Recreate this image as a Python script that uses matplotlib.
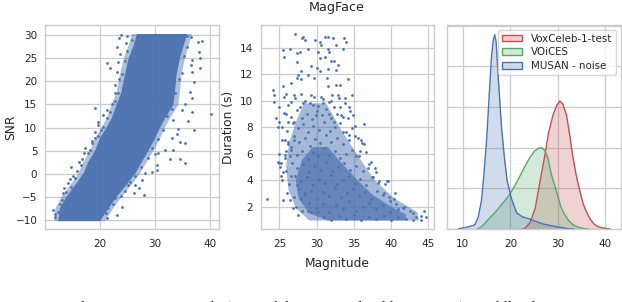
import matplotlib
matplotlib.use('Agg')
import matplotlib.pyplot as plt
import matplotlib.colors as mcolors
import seaborn as sns
from matplotlib.patches import Patch

# =========================================================
# DATA
# =========================================================

# left panel: SNR vs magnitude -- outline of the solid core, a softer halo, loose points
snr_core_mag = [35.8, 35.2, 34.5, 33.9, 33.6, 33.3, 31.8, 30.9, 30.0, 28.8, 27.6, 26.4,
                24.8, 23.0, 21.5, 20.0, 12.4, 12.7, 13.9, 15.5, 17.0, 17.9, 19.1, 20.0,
                21.2, 22.1, 23.0, 23.9, 24.5, 25.2, 26.1, 26.7]
snr_core_snr = [30.25, 27.8, 25.0, 21.4, 17.7, 14.9, 12.0, 10.0, 7.7, 5.0, 2.6, 0.1,
                -2.4, -5.0, -7.5, -10.25, -10.25, -7.5, -5.0, -2.4, 0.1, 2.6, 5.0, 7.7,
                10.0, 12.0, 14.9, 17.7, 21.4, 25.0, 27.8, 30.25]
snr_halo_mag = [36.7, 36.1, 35.4, 34.8, 34.5, 34.2, 32.7, 31.8, 30.9, 29.7, 28.5, 27.3,
                25.7, 23.9, 22.4, 20.9, 11.6, 11.9, 13.0, 14.6, 16.1, 17.0, 18.2, 19.1,
                20.3, 21.2, 22.1, 23.0, 23.6, 24.3, 25.2, 25.8]
snr_halo_snr = snr_core_snr

snr_mag = [38.5, 38.0, 38.2, 36.7, 36.5, 36.7, 38.1, 37.0, 36.4, 36.7, 35.5, 34.8, 36.7,
           40.2, 33.3, 35.9, 37.0, 34.2, 33.9, 33.0, 35.5, 34.5, 33.3, 31.8, 30.6, 30.0,
           35.5, 34.5, 32.7, 30.3, 30.3, 29.4, 27.6, 26.4, 26.1, 27.0, 27.9, 24.5, 23.9,
           23.0, 22.7, 21.5, 19.7, 25.5, 28.2,
           21.2, 21.8, 23.3, 23.0, 23.5, 22.8, 22.1, 21.2, 20.6, 19.1, 21.8, 19.7, 19.1,
           20.6, 18.5, 17.3, 18.2, 16.7, 16.1, 17.0, 14.7, 15.5, 14.5, 14.8, 13.3, 13.9,
           13.0, 11.5, 11.8, 19.1, 19.7, 22.7, 24.2, 23.6, 23.0, 23.5, 24.8, 25.8,
           23.8, 24.9, 35.8, 36.5, 37.8,
           24.9, 24.6, 23.9, 23.3, 22.8, 21.3, 20.2, 19.6, 18.6, 17.8, 16.5, 15.8, 15.0,
           14.2, 13.5, 12.8, 12.3, 11.9,
           35.8, 35.2, 34.8, 34.3, 33.6, 33.0, 32.2, 31.4, 30.6, 29.5, 28.7, 27.4, 26.3,
           25.0, 23.8, 22.4, 21.0, 21.3]
snr_val = [28.7, 26.4, 25.0, 24.6, 23.5, 22.1, 22.9, 19.8, 17.8, 16.5, 15.2, 13.8, 13.3,
           13.0, 11.7, 11.5, 9.5, 9.8, 8.7, 7.7, 6.6, 6.9, 5.2, 5.2, 4.4, 4.2,
           2.3, 3.3, 3.3, 1.9, 0.8, 0.4, -1.3, -2.4, -4.2, -3.1, -4.5, -3.8, -7.1,
           -9.0, -5.3, -7.5, -8.2, -1.7, 0.1,
           23.9, 22.8, 24.2, 22.1, 20.6, 19.3, 15.2, 13.8, 12.8, 14.3, 13.4, 10.5, 9.1,
           10.2, 6.6, 5.5, 5.2, 3.3, 2.6, 4.4, 1.5, -1.0, -1.1, -2.8, -4.2, -3.9,
           -5.7, -7.8, -9.3, 7.7, 11.3, 17.4, 18.5, 26.0, 27.5, 29.3, 28.2, 28.9,
           30.0, 29.9, 29.9, 29.6, 28.5,
           26.5, 24.5, 21.7, 17.5, 15.8, 12.0, 9.5, 8.2, 7.0, 4.6, 2.0, 0.5, -0.5,
           -2.0, -3.0, -6.5, -8.3, -8.6,
           27.5, 25.5, 21.8, 20.5, 17.5, 14.0, 12.5, 9.5, 7.5, 5.5, 3.5, 1.5, -0.5,
           -2.5, -4.8, -6.5, -8.5, -9.6]

# middle panel: duration vs magnitude -- shading for the cloud body, loose points
dur_mid_mag = [28.3, 31.3, 33.3, 35.6, 37.8, 40.5, 43.5, 43.8, 29.0, 27.2, 26.2, 25.9,
               26.3, 27.3]
dur_mid_dur = [9.8, 9.8, 7.8, 5.8, 4.0, 2.6, 1.6, 0.95, 0.95, 1.9, 3.3, 5.0,
               6.8, 8.5]
dur_core_mag = [29.5, 31.5, 33.5, 35.5, 37.5, 40.0, 42.0, 42.0, 31.5, 29.0, 27.6, 27.2,
                28.0]
dur_core_dur = [6.5, 6.5, 5.2, 4.0, 2.9, 2.0, 1.4, 0.95, 0.95, 1.5, 2.6, 4.0,
                5.5]

dur_mag = [27.1, 28.2, 28.4, 28.0, 29.8, 30.4, 31.1, 31.5, 30.6, 32.2, 33.7, 34.0, 32.6,
           25.5, 26.4, 25.6, 27.4, 27.8, 28.8, 30.2, 31.5, 31.7, 33.5, 30.5, 31.1, 32.0,
           32.4, 27.4, 29.3, 30.1, 31.5, 32.9, 32.6, 30.4, 27.9, 28.8, 27.5, 27.3, 27.9,
           29.7, 31.4, 34.2, 33.1, 32.6, 31.5, 26.6, 25.5, 25.9, 24.1, 24.3, 25.6, 26.9,
           27.9, 29.3, 30.6, 32.1, 32.9, 33.8, 34.8, 26.6, 28.2, 29.5, 30.8, 32.0, 33.1,
           34.4, 34.9, 24.3, 25.0, 24.6, 25.0, 24.8, 25.9, 26.1, 27.0, 29.9, 31.7, 33.3,
           34.2, 32.4, 36.4, 35.6, 36.0, 34.4, 33.5, 34.7, 25.7, 26.1, 27.0, 25.9, 26.6,
           26.4, 25.2, 25.0, 25.7, 35.8, 36.4, 35.3, 37.3, 36.9, 38.0, 39.4, 39.6, 37.6,
           38.2, 23.4, 25.5, 26.4, 26.8, 27.5, 29.3, 40.4, 40.9, 41.8, 42.9, 44.4, 44.7,
           44.1, 43.4, 39.1, 39.8, 28.8, 30.2, 25.5, 25.2, 24.8, 27.9, 28.4, 27.3, 26.6,
           26.2, 27.1, 27.8, 28.5, 29.1, 29.7, 30.2, 30.9, 31.6, 32.3, 33.0, 33.8,
           25.6, 26.5, 27.3, 28.0, 28.7, 29.4, 30.0, 30.7, 31.3, 32.0, 32.8, 33.6, 34.5,
           25.4, 26.0, 26.8, 27.5, 28.2, 28.9, 29.5, 30.3, 31.0, 31.8, 32.5, 33.2, 34.0, 35.1,
           25.3, 26.2, 26.9, 27.6, 28.4, 29.1, 29.8, 30.5, 31.2, 32.0, 32.7, 33.5, 34.3,
           35.2, 36.1,
           25.0, 25.8, 26.6, 27.3, 28.0, 28.8, 29.5, 30.2, 31.0, 31.7, 32.5, 33.2, 34.0,
           34.8, 35.7, 36.7,
           25.1, 25.9, 26.7, 27.4, 28.2, 29.0, 29.7, 30.5, 31.3, 32.1, 32.9, 33.7, 34.5,
           35.3, 36.2, 37.0, 37.9,
           25.4, 26.3, 27.1, 27.9, 28.7, 29.5, 30.3, 31.1, 31.9, 32.7, 33.5, 34.3, 35.1,
           35.9, 36.7, 37.5, 38.4, 39.2,
           26.0, 26.9, 27.7, 28.5, 29.3, 30.1, 30.9, 31.7, 32.5, 33.3, 34.1, 34.9, 35.7,
           36.5, 37.3, 38.1, 38.9, 39.7, 40.5,
           27.2, 28.1, 29.0, 29.9, 30.8, 31.7, 32.6, 33.5, 34.4, 35.3, 36.2, 37.1, 38.0,
           38.9, 39.8, 40.7, 41.6, 42.5,
           31.0, 32.0, 33.0, 34.0, 35.0, 36.0, 37.0, 38.0, 39.0, 40.0, 41.0, 42.0, 43.0, 44.0]
dur_val = [15.0, 14.8, 14.6, 14.7, 14.6, 14.4, 14.8, 14.8, 14.2, 14.7, 14.7, 14.4, 14.2,
           13.8, 13.9, 13.3, 13.6, 13.7, 13.9, 13.7, 13.9, 13.7, 13.9, 13.2, 13.3, 13.0,
           13.0, 12.9, 12.6, 12.5, 12.4, 12.7, 12.3, 12.2, 12.2, 11.9, 11.9, 11.7, 11.6,
           11.7, 11.7, 11.6, 11.2, 11.2, 11.1, 11.3, 11.1, 10.5, 10.8, 10.4, 10.3, 10.4,
           10.5, 10.4, 10.3, 10.4, 10.4, 10.2, 10.4, 9.9, 9.8, 9.7, 9.8, 10.0, 9.5,
           9.5, 8.9, 9.9, 9.5, 8.7, 8.4, 8.0, 9.0, 8.4, 8.4, 8.9, 9.0, 8.9,
           8.7, 8.4, 8.2, 7.2, 7.0, 7.4, 7.6, 7.9, 7.0, 6.9, 7.0, 6.2, 6.5,
           5.8, 5.3, 5.3, 5.9, 6.2, 6.7, 5.8, 5.4, 4.9, 4.6, 3.9, 3.9, 4.2,
           3.8, 2.6, 2.5, 2.5, 1.9, 1.4, 1.6, 2.6, 1.8, 2.0, 1.5, 1.7, 1.2,
           1.0, 1.2, 3.0, 2.4, 1.7, 1.6, 4.6, 4.3, 5.4, 2.6, 3.0, 3.6, 4.3,
           9.7, 10.2, 9.5, 10.0, 9.8, 10.3, 9.6, 10.1, 9.9, 9.5, 10.2, 9.8,
           9.1, 8.8, 9.3, 8.7, 9.0, 8.6, 9.2, 8.9, 9.4, 8.7, 9.0, 8.8, 9.2,
           8.0, 7.7, 8.3, 7.9, 8.2, 7.6, 8.1, 7.8, 8.4, 7.7, 8.0, 8.3, 7.6, 8.1,
           7.0, 6.7, 7.3, 6.9, 7.2, 6.6, 7.1, 6.8, 7.4, 6.9, 7.2, 6.7, 7.0,
           7.3, 6.8,
           6.0, 5.7, 6.3, 5.9, 6.2, 5.6, 6.1, 5.8, 6.4, 5.9, 6.2, 5.7, 6.0,
           6.3, 5.8, 6.1,
           5.0, 4.7, 5.3, 4.9, 5.2, 4.6, 5.1, 4.8, 5.4, 4.7, 5.0, 5.3, 4.8,
           5.1, 4.7, 5.2, 4.9,
           4.0, 3.7, 4.3, 3.9, 4.2, 3.6, 4.1, 3.8, 4.4, 3.7, 4.0, 4.3, 3.8,
           4.1, 3.6, 4.2, 3.9, 3.7,
           3.0, 2.7, 3.3, 2.9, 3.2, 2.6, 3.1, 2.8, 3.4, 2.7, 3.0, 3.3, 2.8,
           3.1, 2.6, 3.2, 2.9, 2.7, 3.0,
           2.0, 1.7, 2.3, 1.9, 2.2, 1.6, 2.1, 1.8, 2.4, 1.7, 2.0, 2.3, 1.8,
           2.1, 1.6, 2.2, 1.9, 1.7,
           1.2, 1.0, 1.3, 1.1, 1.4, 1.0, 1.2, 1.1, 1.3, 1.0, 1.2, 1.1, 1.0, 1.3]

# right panel: magnitude densities (curve heights in grid units)
vox_x = [22.5, 23.1, 24.1, 25.2, 26.2, 27.3, 28.0, 29.0, 29.8, 30.4, 31.0, 31.8, 32.5,
         33.1, 33.8, 34.3, 35.3, 36.0, 36.8, 37.6, 38.4, 39.3, 40.3, 41.0]
vox_y = [0, 0.02, 0.15, 0.5, 1.15, 1.85, 2.35, 2.82, 3.05, 3.15, 3.08, 2.8, 2.3,
         1.8, 1.35, 1.08, 0.62, 0.42, 0.24, 0.12, 0.06, 0.03, 0.01, 0]

voices_x = [13.0, 13.6, 14.5, 15.7, 16.7, 17.8, 19.0, 20.0, 21.0, 22.0, 23.0, 24.1, 25.1,
            26.0, 26.6, 27.3, 27.9, 28.6, 29.7, 30.6, 31.3, 32.3, 33.2, 34.4, 35.5, 36.5]
voices_y = [0, 0.03, 0.12, 0.28, 0.4, 0.55, 0.72, 0.88, 1.08, 1.3, 1.53, 1.76, 1.92,
            1.99, 2.0, 1.92, 1.74, 1.35, 0.92, 0.55, 0.38, 0.2, 0.1, 0.04, 0.01, 0]

musan_x = [9.0, 9.7, 11.1, 12.5, 13.2, 13.9, 14.4, 15.0, 15.5, 16.0, 16.4, 16.7, 17.0,
           17.4, 18.1, 18.7, 19.3, 20.2, 21.3, 22.5, 24.0, 25.0, 27.0, 29.0, 31.0, 32.2,
           33.5]
musan_y = [0, 0.02, 0.05, 0.1, 0.28, 0.69, 1.3, 2.2, 3.2, 4.2, 4.65, 4.78, 4.6,
           3.8, 2.55, 1.8, 1.2, 0.75, 0.4, 0.3, 0.25, 0.2, 0.12, 0.07, 0.03, 0.01, 0]

density_labels = ['VoxCeleb-1-test', 'VOiCES', 'MUSAN - noise']

# =========================================================
# STYLE
# =========================================================

sns.set_theme(style='whitegrid')
plt.rcParams['font.family'] = ['DejaVu Sans']

BLUE = '#4C72B0'
GREEN = '#55A868'
RED = '#C44E52'
TICK_FS = 7.5
LABEL_FS = 8.8

W, H = 622, 302
fig = plt.figure(figsize=(W / 100, H / 100), dpi=100)

def px_axes(left, right, top, bottom):
    return fig.add_axes([left / W, 1 - bottom / H, (right - left) / W, (bottom - top) / H])

ax1 = px_axes(45, 219, 25, 229)
ax2 = px_axes(260.5, 433.7, 25, 229)
ax3 = px_axes(446.7, 620.7, 25, 229)

for ax in (ax1, ax2, ax3):
    ax.tick_params(axis='x', length=0, pad=7, labelsize=TICK_FS, colors='0.15')
    ax.tick_params(axis='y', length=0, pad=5.5, labelsize=TICK_FS, colors='0.15')
    for sp in ax.spines.values():
        sp.set_color('0.8')
        sp.set_linewidth(1.0)
    ax.grid(True, color='0.8', linewidth=0.9)
    ax.set_axisbelow(True)

# =========================================================
# LEFT: SNR
# =========================================================

ax1.fill(snr_halo_mag, snr_halo_snr, color=BLUE, alpha=0.45, linewidth=0)
ax1.fill(snr_core_mag, snr_core_snr, color=BLUE, alpha=0.95, linewidth=0)
ax1.scatter(snr_mag, snr_val, s=4, color=BLUE, linewidths=0)
ax1.set_xlim(10.0, 41.6)
ax1.set_ylim(-11.95, 32.2)
ax1.set_xticks([20, 30, 40])
ax1.set_yticks([-10, -5, 0, 5, 10, 15, 20, 25, 30])
ax1.set_ylabel('SNR', fontsize=LABEL_FS, color='0.15')
ax1.yaxis.set_label_coords(-0.161, 0.5)

# =========================================================
# MIDDLE: duration
# =========================================================

ax2.fill(dur_mid_mag, dur_mid_dur, color=BLUE, alpha=0.5, linewidth=0)
ax2.fill(dur_core_mag, dur_core_dur, color=BLUE, alpha=0.7, linewidth=0)
ax2.scatter(dur_mag, dur_val, s=4, color=BLUE, linewidths=0)
ax2.set_xlim(22.46, 45.74)
ax2.set_ylim(0.31, 15.71)
ax2.set_xticks([25, 30, 35, 40, 45])
ax2.set_yticks([2, 4, 6, 8, 10, 12, 14])
ax2.set_ylabel('Duration (s)', fontsize=LABEL_FS, color='0.15')
ax2.yaxis.set_label_coords(-0.147, 0.5)

# =========================================================
# RIGHT: densities
# =========================================================

curves = [(vox_x, vox_y, RED), (voices_x, voices_y, GREEN), (musan_x, musan_y, BLUE)]
for cx, cy, col in curves:
    ax3.fill_between(cx, cy, 0, color=col, alpha=0.25, linewidth=0)
    ax3.plot(cx, cy, color=col, linewidth=1.0)

ax3.set_xlim(6.6, 43.2)
ax3.set_ylim(0, max(musan_y) * 1.05)
ax3.set_xticks([10, 20, 30, 40])
ax3.set_yticks([0, 1, 2, 3, 4, 5])
ax3.set_yticklabels([])

leg = ax3.legend(
    [Patch(facecolor=mcolors.to_rgba(col, 0.25), edgecolor=col, linewidth=1.0)
     for _, _, col in curves],
    density_labels, loc='upper right', fontsize=7.4, frameon=True,
    labelspacing=0.35, handleheight=0.6, borderpad=0.35)
leg.get_frame().set_edgecolor('0.8')

# =========================================================
# FIGURE TEXT
# =========================================================

fig.text(337 / W, 1 - 11 / H, 'MagFace', ha='center', va='baseline',
         fontsize=9.2, color='0.15')
fig.text(337 / W, 1 - 266.7 / H, 'Magnitude', ha='center', va='baseline',
         fontsize=LABEL_FS, color='0.15')
# caption of the source page, only its top edge shows at the bottom border
fig.text(0.0, 1.2 / H, 'Figure 3: Left: SNR vs. magnitude (VoxCeleb-1-test with additive noise). Middle: duration',
         ha='left', va='top', fontsize=11.5, family=['Liberation Serif'], color='0.1')

fig.savefig('out.png', dpi=100)
